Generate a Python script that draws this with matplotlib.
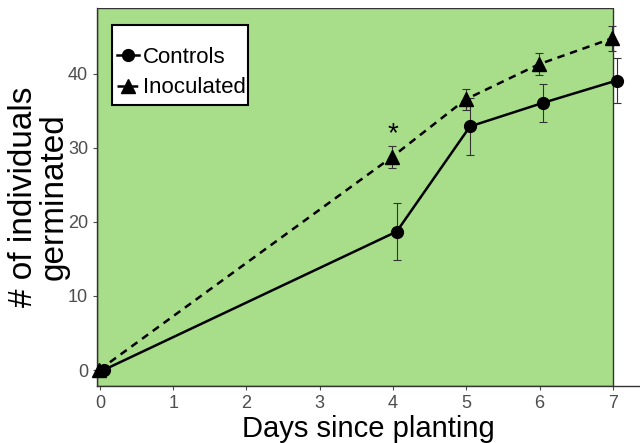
import numpy as np
import matplotlib.pyplot as plt
from matplotlib.patches import Rectangle

plt.rcParams['font.family'] = ['Liberation Sans', 'DejaVu Sans']

# Data
days = [0, 4, 5, 6, 7]
controls = [0, 18.7, 32.9, 36.1, 39.1]
controls_err = [0, 3.8, 3.8, 2.6, 3.0]
inoculated = [0, 28.8, 36.55, 41.3, 44.8]
inoculated_err = [0, 1.5, 1.45, 1.5, 1.7]
series_names = ['Controls', 'Inoculated']
x_ticks = [0, 1, 2, 3, 4, 5, 6, 7]
y_ticks = [0, 10, 20, 30, 40]

GREEN = '#a8de8a'
TICK_GREY = '#4d4d4d'
W, H = 640, 443

fig = plt.figure(figsize=(6.4, 4.43), dpi=100)
ax = fig.add_axes([97 / W, 57 / H, 543 / W, 378 / H])
ax.set_facecolor('white')

x = np.array(days, dtype=float)
x_ctrl = x + 0.05
x_inoc = x - 0.01

# green panel up to day 7
ax.axvspan(-0.04, 7.0, facecolor=GREEN, edgecolor='#333333', lw=1.0, zorder=0)

ax.errorbar(x_ctrl, controls, yerr=controls_err, fmt='none', ecolor='#333333',
            elinewidth=0.8, capsize=3, capthick=0.8, zorder=2, clip_on=False)
ax.errorbar(x_inoc, inoculated, yerr=inoculated_err, fmt='none', ecolor='#333333',
            elinewidth=0.8, capsize=3, capthick=0.8, zorder=2, clip_on=False)

ax.plot(x_ctrl, controls, color='black', lw=1.8, marker='o', ms=8.5,
        label=series_names[0], zorder=3, clip_on=False)
ax.plot(x_inoc, inoculated, color='black', lw=1.8, ls=(0, (3, 2.3)), marker='^',
        ms=10, label=series_names[1], zorder=3, clip_on=False)

ax.text(4.0, 31.8, '*', ha='center', va='center', fontsize=20, color='black')

ax.set_xlim(-0.04, 7.37)
ax.set_ylim(-2.16, 48.9)
ax.set_xticks(x_ticks)
ax.set_yticks(y_ticks)
ax.tick_params(colors=TICK_GREY, labelsize=13, length=3, width=0.8)
for lab in ax.get_xticklabels() + ax.get_yticklabels():
    lab.set_color(TICK_GREY)

for side in ['top', 'right']:
    ax.spines[side].set_visible(False)
for side in ['left', 'bottom']:
    ax.spines[side].set_color('#333333')
    ax.spines[side].set_linewidth(1.0)

ax.set_xlabel('Days since planting', fontsize=21, labelpad=2)
ax.set_ylabel('# of individuals\ngerminated', fontsize=24, linespacing=0.95,
              labelpad=-1)

# legend box drawn separately so the padding can be taller than wide
box = Rectangle((112 / W, 1 - 105 / H), 136 / W, 80 / H,
                transform=fig.transFigure, facecolor='white',
                edgecolor='black', lw=1.5, zorder=5, clip_on=False)
ax.add_patch(box)
leg = ax.legend(loc='upper left', bbox_to_anchor=(117 / W, 1 - 47 / H),
                bbox_transform=fig.transFigure, fontsize=16, frameon=False,
                handlelength=1.0, handletextpad=0.18, borderpad=0,
                labelspacing=0.42, borderaxespad=0)
leg.set_zorder(6)

fig.savefig('out.png', dpi=100)
